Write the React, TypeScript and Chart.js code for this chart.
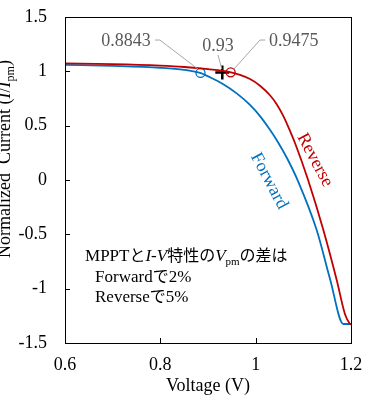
import React, { useEffect, useRef } from "react";
import { Chart, registerables } from "chart.js";

Chart.register(...registerables);

// ---- data ----
const reverseV = [0.6, 0.7, 0.8, 0.85, 0.9, 0.9461, 0.9671, 0.9881, 1.0091, 1.03, 1.0441, 1.0579, 1.072, 1.0825, 1.11, 1.142, 1.17, 1.1874, 1.198, 1.2];
const reverseI = [1.073, 1.066, 1.052, 1.04, 1.02, 0.993, 0.967, 0.929, 0.868, 0.78, 0.698, 0.59, 0.452, 0.34, 0.0, -0.46, -0.92, -1.235, -1.325, -1.33];
const forwardV = [0.6, 0.7, 0.8, 0.85, 0.8832, 0.9042, 0.9321, 0.9602, 0.9881, 1.0091, 1.03, 1.0475, 1.0667, 1.0888, 1.128, 1.156, 1.184, 1.2];
const forwardI = [1.06, 1.05, 1.033, 1.014, 0.985, 0.945, 0.881, 0.797, 0.691, 0.588, 0.462, 0.343, 0.193, -0.01, -0.46, -0.91, -1.325, -1.325];

const mpptFwdV = [0.8843];
const mpptFwdI = [0.985];
const mpptRevV = [0.9475];
const mpptRevI = [0.991];
const crossV = [0.93];
const crossI = [0.99];

const xTicks = [0.6, 0.8, 1, 1.2];
const xTickLabels = ["0.6", "0.8", "1", "1.2"];
const yTicks = [-1.5, -1, -0.5, 0, 0.5, 1, 1.5];
const yTickLabels = ["-1.5", "-1", "-0.5", "0", "0.5", "1", "1.5"];

const valueLabels = ["0.8843", "0.93", "0.9475"];
const valueLabelV = [0.728, 0.921, 1.08];
const valueLabelI = [1.279, 1.233, 1.279];

// leader lines (data coords)
const leaders: number[][][] = [
  [[0.789, 1.288], [0.799, 1.288], [0.879, 1.021]],
  [[0.921, 1.15], [0.929, 1.021]],
  [[1.02, 1.288], [1.009, 1.288], [0.9545, 1.021]],
];

const RED = "#C00000";
const BLUE = "#0070C0";
const SERIF = "'Liberation Serif', 'Times New Roman', serif";
const CJK = "'Noto Sans CJK JP', sans-serif";

type Seg = { t: string; font: string; dy?: number };

function drawSegs(ctx: CanvasRenderingContext2D, segs: Seg[], x: number, y: number, color: string, align: "left" | "center") {
  ctx.save();
  ctx.fillStyle = color;
  ctx.textBaseline = "alphabetic";
  ctx.textAlign = "left";
  let total = 0;
  for (const s of segs) {
    ctx.font = s.font;
    total += ctx.measureText(s.t).width;
  }
  let cx = align === "center" ? x - total / 2 : x;
  for (const s of segs) {
    ctx.font = s.font;
    ctx.fillText(s.t, cx, y + (s.dy || 0));
    cx += ctx.measureText(s.t).width;
  }
  ctx.restore();
}

const decorPlugin = {
  id: "decor",
  afterDraw(chart: any) {
    const ctx: CanvasRenderingContext2D = chart.ctx;
    const xs = chart.scales.x;
    const ys = chart.scales.y;
    const a = chart.chartArea;
    const px = (v: number) => xs.getPixelForValue(v);
    const py = (v: number) => ys.getPixelForValue(v);

    ctx.save();
    // frame
    ctx.strokeStyle = "#000";
    ctx.lineWidth = 1;
    ctx.strokeRect(Math.round(a.left) + 0.5, Math.round(a.top) + 0.5, Math.round(a.right - a.left), Math.round(a.bottom - a.top));
    // inner ticks
    ctx.beginPath();
    for (const v of yTicks) {
      const y = Math.round(py(v)) + 0.5;
      ctx.moveTo(a.left, y);
      ctx.lineTo(a.left + 5, y);
    }
    for (const v of xTicks) {
      const x = Math.round(px(v)) + 0.5;
      ctx.moveTo(x, a.bottom);
      ctx.lineTo(x, a.bottom - 5);
    }
    ctx.stroke();

    // tick labels
    ctx.fillStyle = "#000";
    ctx.font = `18px ${SERIF}`;
    ctx.textBaseline = "middle";
    ctx.textAlign = "right";
    yTicks.forEach((v, i) => ctx.fillText(yTickLabels[i], a.left - 18, py(v)));
    ctx.textAlign = "center";
    xTicks.forEach((v, i) => ctx.fillText(xTickLabels[i], px(v), a.bottom + 22));

    // leader lines
    ctx.strokeStyle = "#A6A6A6";
    ctx.lineWidth = 1;
    for (const path of leaders) {
      ctx.beginPath();
      path.forEach((p, i) => {
        if (i === 0) ctx.moveTo(px(p[0]), py(p[1]));
        else ctx.lineTo(px(p[0]), py(p[1]));
      });
      ctx.stroke();
    }
    // value labels
    ctx.fillStyle = "#595959";
    ctx.font = `18px ${SERIF}`;
    ctx.textAlign = "center";
    ctx.textBaseline = "middle";
    valueLabels.forEach((t, i) => ctx.fillText(t, px(valueLabelV[i]), py(valueLabelI[i])));

    // rotated series labels
    const rot = (62 * Math.PI) / 180;
    const rotLabel = (t: string, v: number, iv: number, color: string) => {
      ctx.save();
      ctx.translate(px(v), py(iv));
      ctx.rotate(rot);
      ctx.fillStyle = color;
      ctx.font = `18px ${SERIF}`;
      ctx.textAlign = "center";
      ctx.textBaseline = "middle";
      ctx.fillText(t, 0, 0);
      ctx.restore();
    };
    rotLabel("Reverse", 1.124, 0.184, RED);
    rotLabel("Forward", 1.028, -0.009, BLUE);

    // note text
    const f17 = `17px ${SERIF}`;
    const f17i = `italic 17px ${SERIF}`;
    const fsub = `11px ${SERIF}`;
    const fcjk = `16px ${CJK}`;
    drawSegs(ctx, [
      { t: "MPPT", font: f17 },
      { t: "と", font: fcjk },
      { t: "I-V", font: f17i },
      { t: "特性の", font: fcjk },
      { t: "V", font: f17i },
      { t: "pm", font: fsub, dy: 4 },
      { t: "の差は", font: fcjk },
    ], px(0.642), py(-0.745), "#000", "left");
    drawSegs(ctx, [
      { t: "Forward", font: f17 },
      { t: "で", font: fcjk },
      { t: "2%", font: f17 },
    ], px(0.663), py(-0.94), "#000", "left");
    drawSegs(ctx, [
      { t: "Reverse", font: f17 },
      { t: "で", font: fcjk },
      { t: "5%", font: f17 },
    ], px(0.663), py(-1.124), "#000", "left");

    // x title
    const f18 = `18px ${SERIF}`;
    const f18i = `italic 18px ${SERIF}`;
    ctx.fillStyle = "#000";
    ctx.font = f18;
    ctx.textAlign = "center";
    ctx.textBaseline = "middle";
    ctx.fillText("Voltage (V)", (a.left + a.right) / 2, 386);

    // y title
    ctx.save();
    ctx.translate(10, 159);
    ctx.rotate(-Math.PI / 2);
    drawSegs(ctx, [
      { t: "Normalized  Current (", font: f18 },
      { t: "I", font: f18i },
      { t: "/", font: f18 },
      { t: "I", font: f18i },
      { t: "pm", font: `12px ${SERIF}`, dy: 4 },
      { t: ")", font: f18 },
    ], 0, 0, "#000", "center");
    ctx.restore();

    ctx.restore();
  },
};

export default function App() {
  const ref = useRef<HTMLCanvasElement | null>(null);
  useEffect(() => {
    if (!ref.current) return;
    const pts = (xs: number[], ys: number[]) => xs.map((x, i) => ({ x, y: ys[i] }));
    const chart = new Chart(ref.current, {
      type: "line",
      data: {
        datasets: [
          {
            label: "Reverse",
            data: pts(reverseV, reverseI),
            borderColor: RED,
            borderWidth: 1.8,
            pointRadius: 0,
            cubicInterpolationMode: "monotone",
            fill: false,
          },
          {
            label: "Forward",
            data: pts(forwardV, forwardI),
            borderColor: BLUE,
            borderWidth: 1.8,
            pointRadius: 0,
            cubicInterpolationMode: "monotone",
            fill: false,
          },
          {
            label: "MPPT Forward",
            data: pts(mpptFwdV, mpptFwdI),
            showLine: false,
            pointStyle: "circle",
            pointRadius: 4.5,
            pointBorderWidth: 1.3,
            pointBorderColor: BLUE,
            pointBackgroundColor: "rgba(255,255,255,0)",
          },
          {
            label: "MPPT Reverse",
            data: pts(mpptRevV, mpptRevI),
            showLine: false,
            pointStyle: "circle",
            pointRadius: 4.5,
            pointBorderWidth: 1.3,
            pointBorderColor: RED,
            pointBackgroundColor: "rgba(255,255,255,0)",
          },
          {
            label: "MPPT",
            data: pts(crossV, crossI),
            showLine: false,
            pointStyle: "cross",
            pointRadius: 7,
            pointBorderWidth: 2.5,
            pointBorderColor: "#000",
          },
        ],
      },
      options: {
        animation: false,
        responsive: true,
        maintainAspectRatio: false,
        layout: { padding: { top: 17, right: 15, left: 0, bottom: 0 } },
        plugins: { legend: { display: false }, tooltip: { enabled: false } },
        scales: {
          x: {
            type: "linear",
            min: 0.6,
            max: 1.2,
            afterBuildTicks: (s: any) => { s.ticks = xTicks.map((v) => ({ value: v })); },
            afterFit: (s: any) => { s.height = 62; },
            grid: { display: false, drawTicks: false },
            border: { display: false },
            ticks: { display: false },
          },
          y: {
            type: "linear",
            min: -1.5,
            max: 1.5,
            afterBuildTicks: (s: any) => { s.ticks = yTicks.map((v) => ({ value: v })); },
            afterFit: (s: any) => { s.width = 65; },
            grid: { display: false, drawTicks: false },
            border: { display: false },
            ticks: { display: false },
          },
        },
      },
      plugins: [decorPlugin],
    } as any);
    return () => chart.destroy();
  }, []);
  return (
    <div style={{ position: "fixed", left: 0, top: 0, width: 366, height: 405, background: "#fff" }}>
      <canvas ref={ref} />
    </div>
  );
}
